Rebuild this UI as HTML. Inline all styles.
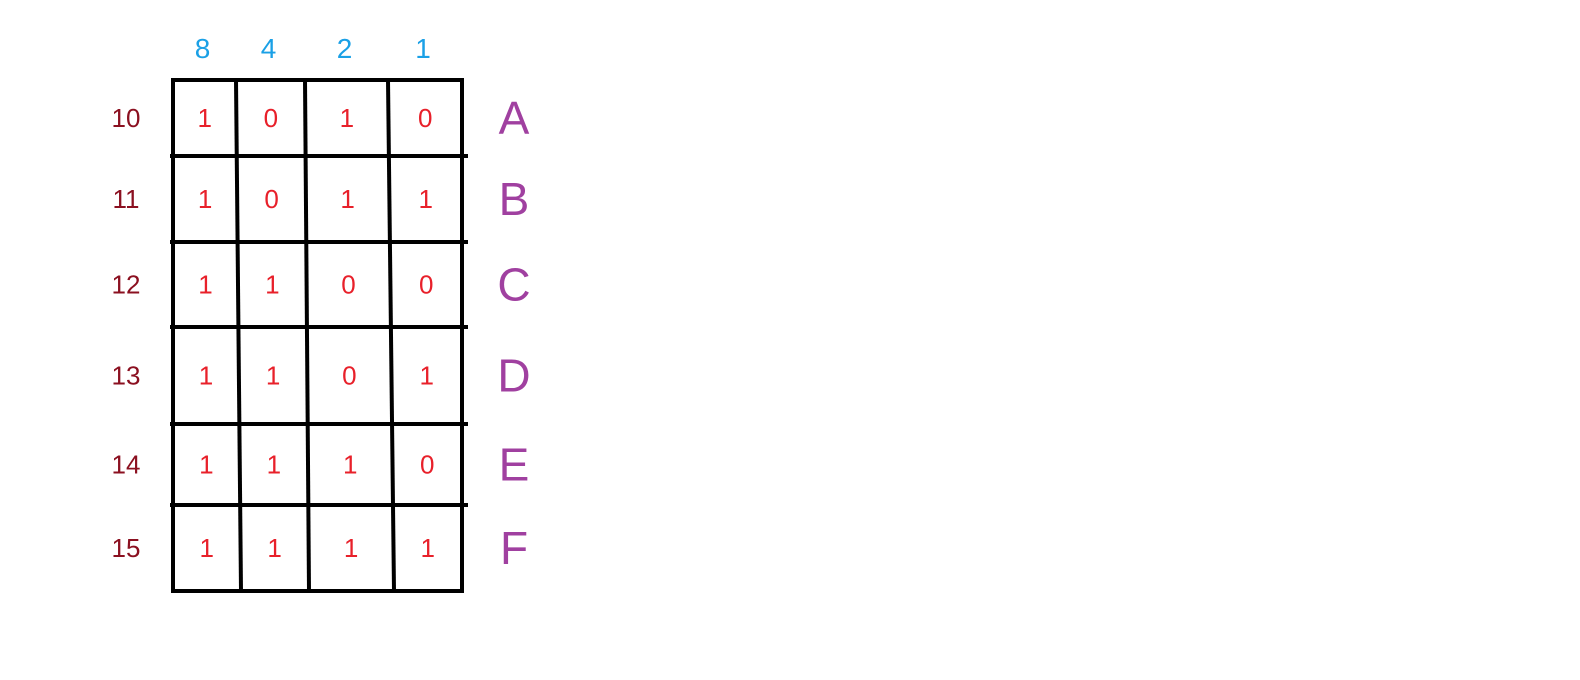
<!DOCTYPE html>
<html><head><meta charset="utf-8"><style>
html,body{margin:0;padding:0;background:#fff;width:1580px;height:680px;overflow:hidden}
svg{display:block}
text{font-family:"Liberation Sans",sans-serif}
</style></head><body>
<svg id="chart" width="1580" height="680" viewBox="0 0 1580 680"></svg>
<script>
const weights = [8, 4, 2, 1];
const decimals = [10, 11, 12, 13, 14, 15];
const letters = ["A", "B", "C", "D", "E", "F"];
const bits = [
  [1,0,1,0],
  [1,0,1,1],
  [1,1,0,0],
  [1,1,0,1],
  [1,1,1,0],
  [1,1,1,1]
];
const NS = "http://www.w3.org/2000/svg";
const svgEl = document.getElementById("chart");
const gLeft = 173, gRight = 462, gTop = 80, gBottom = 591;
const rowLines = [156, 242, 327, 424, 505];
const colTop = [236, 305, 388], colBot = [241, 309, 394];
function colX(i, y) {
  const t = (y - gTop) / (gBottom - gTop);
  return colTop[i] + (colBot[i] - colTop[i]) * t;
}
const rowEdges = [gTop, ...rowLines, gBottom];
function rowCenter(r) { return (rowEdges[r] + rowEdges[r + 1]) / 2; }
function colCenter(c, y) {
  const edges = [gLeft, colX(0, y), colX(1, y), colX(2, y), gRight];
  return (edges[c] + edges[c + 1]) / 2;
}
function mk(tag, attrs) {
  const e = document.createElementNS(NS, tag);
  for (const k in attrs) e.setAttribute(k, attrs[k]);
  svgEl.appendChild(e);
  return e;
}
const border = mk("rect", {x: gLeft, y: gTop, width: gRight - gLeft, height: gBottom - gTop, fill: "none", stroke: "#000", "stroke-width": 4});


rowLines.forEach((y) => {
  const l = mk("line", {x1: gLeft - 3, y1: y, x2: gRight + 6, y2: y, stroke: "#000", "stroke-width": 4});
  
  
});
colTop.forEach((x, i) => {
  const l = mk("line", {x1: x, y1: gTop, x2: colBot[i], y2: gBottom, stroke: "#000", "stroke-width": 4});
  
  
});
weights.forEach((w, c) => {
  const t = mk("text", {x: colCenter(c, gTop) - 2, y: 58, "text-anchor": "middle", "font-size": 28, fill: "#1aa0e6"});
  t.textContent = w;
  
  
});
decimals.forEach((d, r) => {
  const y = rowCenter(r);
  const t = mk("text", {x: 126, y: y + 9, "text-anchor": "middle", "font-size": 26, fill: "#8b1020"});
  t.textContent = d;
  
  
  const L = mk("text", {x: 514, y: y + 16, "text-anchor": "middle", "font-size": 46, fill: "#a040a0"});
  L.textContent = letters[r];
  
  
  bits[r].forEach((b, c) => {
    const t2 = mk("text", {x: colCenter(c, y), y: y + 9, "text-anchor": "middle", "font-size": 26, fill: "#e8202a"});
    t2.textContent = b;
    
    
  });
});
</script>
</body></html>
